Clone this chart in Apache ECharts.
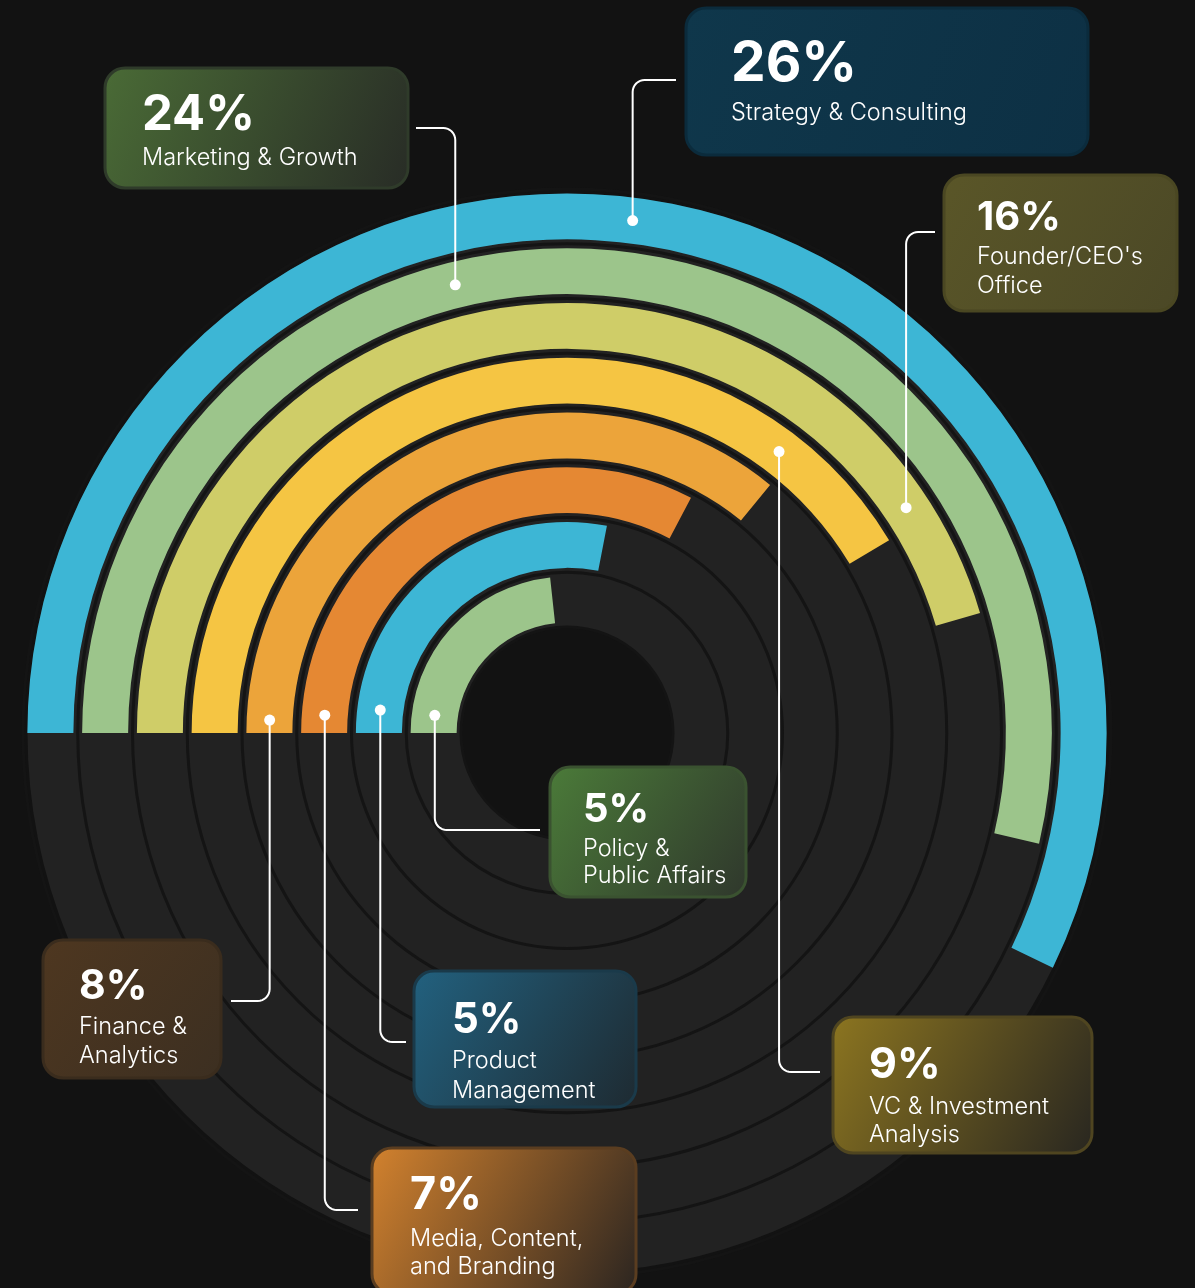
<!DOCTYPE html>
<html><head><meta charset="utf-8">
<script src="https://cdn.jsdelivr.net/npm/echarts@6/dist/echarts.min.js"></script>
<style>html,body{margin:0;padding:0;background:#121212;}#c{width:1195px;height:1288px;}</style>
</head><body><div id="c"></div>
<script>
// ---- data (outer ring first) ----
const categories = ['Strategy & Consulting', 'Marketing & Growth', "Founder/CEO's Office", 'VC & Investment Analysis', 'Finance & Analytics', 'Media, Content, and Branding', 'Product Management', 'Policy & Public Affairs'];
const shareLabels = ['26%', '24%', '16%', '9%', '8%', '7%', '5%', '5%'];
const arcDegrees = [205.8, 193.2, 163.8, 149.1, 129.3, 117.8, 100.9, 83.8];
const anchorDegrees = [97.3, 76.0, 146.4, 127.0, 2.5, 4.2, 7.0, 7.6];
const descLines = [['Strategy & Consulting'], ['Marketing & Growth'], ["Founder/CEO's", 'Office'], ['VC & Investment', 'Analysis'], ['Finance &', 'Analytics'], ['Media, Content,', 'and Branding'], ['Product', 'Management'], ['Policy &', 'Public Affairs']];
const colors = ['#3db6d5', '#9cc58b', '#cfcd68', '#f5c543', '#eca43a', '#e58833', '#3db6d5', '#9cc58b'];

// ---- layout / styling of callouts ----
const boxes = [
  {x:686, y:8,    w:402, h:147, px:731, py:61,     ps:55, dy:[111],          c0:'#0f374b', c1:'#0d3044', st:'#0b2b3c', ey:80,   ex:676},
  {x:105, y:68,   w:303, h:120, px:142, py:112,    ps:49, dy:[156.5],        c0:'#4a6b36', c1:'#282c26', st:'#2f3b2a', ey:128,  ex:416},
  {x:944, y:175,  w:233, h:136, px:977, py:215,    ps:40, dy:[255.5, 284.5], c0:'#5a5628', c1:'#4b4826', st:'#4a4722', ey:232,  ex:935},
  {x:833, y:1017, w:259, h:136, px:869, py:1062.5, ps:43, dy:[1105, 1133.5], c0:'#8c7520', c1:'#282620', st:'#4f4520', ey:1072, ex:820},
  {x:43,  y:940,  w:178, h:138, px:79,  py:984,    ps:41, dy:[1025.5,1054.5],c0:'#4e3720', c1:'#3c2f21', st:'#3a2c1d', ey:1001, ex:231},
  {x:372, y:1148, w:264, h:146, px:410, py:1193,   ps:45, dy:[1237.5,1265.5],c0:'#d3822e', c1:'#2a2420', st:'#5a3d20', ey:1210, ex:358},
  {x:414, y:971,  w:222, h:136, px:452, py:1018,   ps:42, dy:[1059.5,1089.5],c0:'#22617f', c1:'#1e2a31', st:'#1a3a4a', ey:1042, ex:406},
  {x:550, y:767,  w:196, h:130, px:583, py:807.5,  ps:40, dy:[847.5, 874.5], c0:'#4b7b39', c1:'#2f372c', st:'#3a5230', ey:830,  ex:540}
];
const DESC_SIZE = 23.5;

const CENTER = [567, 733];
const chart = echarts.init(document.getElementById('c'), null, {renderer: 'canvas'});
const option = {
  backgroundColor: '#121212',
  animation: false,
  polar: {center: CENTER, radius: [106, 544]},
  angleAxis: {type: 'value', min: 0, max: 360, startAngle: 180, clockwise: true, show: false},
  radiusAxis: {
    type: 'category', data: categories, inverse: true, z: 3,
    axisLine: {show: false},
    axisTick: {show: false, interval: 0},
    axisLabel: {show: false, interval: 0},
    splitLine: {show: true, interval: 0, lineStyle: {color: '#141414', width: 3}}
  },
  series: [
    {type: 'pie', center: CENTER, radius: [106, 539.5], silent: true, z: 1,
     label: {show: false}, labelLine: {show: false}, emphasis: {disabled: true},
     data: [{value: 1, itemStyle: {color: '#222222'}}]},
    {type: 'bar', coordinateSystem: 'polar', barWidth: 46, z: 2, silent: true,
     data: arcDegrees.map((v, i) => ({value: v, itemStyle: {color: colors[i]}}))},
    {type: 'scatter', coordinateSystem: 'polar', symbolSize: 11, z: 5, silent: true,
     itemStyle: {color: '#ffffff', opacity: 1},
     data: anchorDegrees.map((a, i) => [i, a])}
  ]
};
chart.setOption(option);

const els = [];
const R = 12;
boxes.forEach((b, i) => {
  let p = chart.convertToPixel({polarIndex: 0}, [i, anchorDegrees[i]]);
  if (!p) p = chart.convertToPixel({seriesIndex: 2}, [i, anchorDegrees[i]]);
  const sx = p[0], sy = p[1];
  const vy = b.ey > sy ? 1 : -1;
  const hx = b.ex > sx ? 1 : -1;
  const pts = [[sx, sy], [sx, b.ey - vy * R]];
  const cx = sx + hx * R, cy = b.ey - vy * R;
  for (let k = 1; k <= 8; k++) {
    const phi = (k / 8) * Math.PI / 2;
    pts.push([cx - hx * R * Math.cos(phi), cy + vy * R * Math.sin(phi)]);
  }
  pts.push([b.ex, b.ey]);
  els.push({type: 'polyline', shape: {points: pts}, style: {stroke: '#ffffff', lineWidth: 2, fill: null}, z: 99});
  els.push({type: 'rect', shape: {x: b.x, y: b.y, width: b.w, height: b.h, r: 20},
    style: {fill: {type: 'linear', x: 0, y: 0, x2: 1, y2: 1, colorStops: [{offset: 0, color: b.c0}, {offset: 1, color: b.c1}]},
            stroke: b.st, lineWidth: 3}, z: 100});
  els.push({type: 'text', x: b.px, y: b.py + 0.065 * b.ps, z: 101,
    style: {text: shareLabels[i], fill: '#ffffff', fontSize: b.ps, fontWeight: 'bold', fontFamily: 'Inter', align: 'left', verticalAlign: 'middle'}});
  descLines[i].forEach((t, k) => {
    els.push({type: 'text', x: b.px, y: b.dy[k] + 0.065 * DESC_SIZE, z: 101,
      style: {text: t, fill: '#ffffff', fontSize: DESC_SIZE, fontWeight: 300, fontFamily: 'Inter', align: 'left', verticalAlign: 'middle'}});
  });
});
chart.setOption({graphic: {elements: els}});
</script></body></html>
